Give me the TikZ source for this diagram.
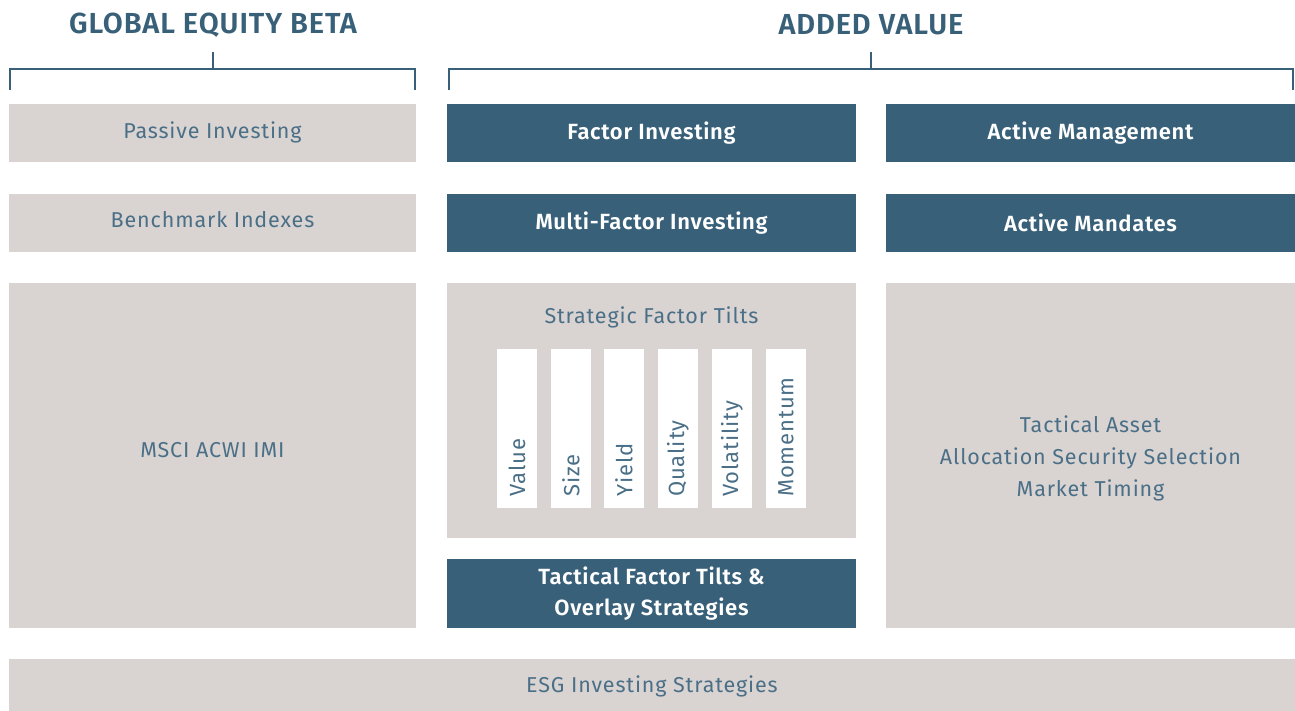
\documentclass[tikz,border=0pt]{standalone}
\usepackage{fontspec}
\setmainfont{Fira Sans}[LetterSpace=4]
\newfontfamily\boldf{Fira Sans SemiBold}[LetterSpace=3]
\definecolor{darkb}{HTML}{386079}
\definecolor{greyb}{HTML}{D9D4D2}
\definecolor{txtb}{HTML}{4A6F87}
\begin{document}
\begin{tikzpicture}[x=1pt,y=-1pt,
  gbox/.style={rectangle,fill=greyb,inner sep=0pt,text=txtb,font=\fontsize{21.5}{32}\selectfont,align=center},
  dbox/.style={rectangle,fill=darkb,inner sep=0pt,text=white,font=\boldf\fontsize{22}{31}\selectfont,align=center},
  wbar/.style={rectangle,fill=white,inner sep=0pt,minimum width=40pt,minimum height=159pt},
  vlab/.style={rotate=90,anchor=west,inner sep=0pt,text=txtb,font=\fontsize{22}{24}\selectfont},
  gtxt/.style={text=txtb,font=\fontsize{21.5}{32}\selectfont,align=center},
  title/.style={text=darkb,font=\boldf\fontsize{29}{30}\selectfont},
  brk/.style={draw=darkb,line width=1.5pt}]
\useasboundingbox (0,0) rectangle (1295,711);
% titles
\node[title] (t1) at (213,25) {GLOBAL EQUITY BETA};
\node[title] (t2) at (871,25) {ADDED VALUE};
% brackets
\coordinate (b1t) at (213,52);
\coordinate (b1m) at (213,69);
\draw[brk] (10,90) -- (10,69) -- (415,69) -- (415,90);
\draw[brk] (b1t) -- (b1m);
\coordinate (b2t) at (871,52);
\coordinate (b2m) at (871,69);
\draw[brk] (449,90) -- (449,69) -- (1293,69) -- (1293,90);
\draw[brk] (b2t) -- (b2m);
% left column
\node[gbox,minimum width=407pt,minimum height=58pt] (pass) at (212.5,133) {};
\node[gtxt] (passl) at (212.5,132) {Passive Investing};
\node[gbox,minimum width=407pt,minimum height=58pt] (bench) at (212.5,223) {};
\node[gtxt] (benchl) at (212.5,220) {Benchmark Indexes};
\node[gbox,minimum width=407pt,minimum height=345pt] (msci) at (212.5,455.5) {};
\node[gtxt] (mscil) at (212.5,450) {MSCI ACWI IMI};
% middle column
\node[dbox,minimum width=409pt,minimum height=58pt] (fact) at (651.5,133) {Factor Investing};
\node[dbox,minimum width=409pt,minimum height=58pt] (multi) at (651.5,223) {Multi-Factor Investing};
\node[gbox,minimum width=409pt,minimum height=255pt] (strat) at (651.5,410.5) {};
\node[gtxt] (stratl) at (651.5,317) {Strategic Factor Tilts};
\node[dbox,minimum width=409pt,minimum height=69pt] (tact) at (651.5,593.5) {Tactical Factor Tilts \&\\Overlay Strategies};
% factor bars
\foreach \n/\x/\t in {f1/517/Value,f2/571/Size,f3/624/Yield,f4/678/Quality,f5/732/Volatility,f6/786/Momentum}{
  \node[wbar] (\n) at (\x,428.5) {};
  \node[vlab] (\n l) at (\x,497) {\t};
}
% right column
\node[dbox,minimum width=409pt,minimum height=58pt] (actm) at (1090.5,133) {Active Management};
\node[dbox,minimum width=409pt,minimum height=58pt] (actd) at (1090.5,223) {Active Mandates};
\node[gbox,minimum width=409pt,minimum height=345pt] (tas) at (1090.5,455.5) {};
\node[gtxt] (tasl) at (1090.5,458) {Tactical Asset\\Allocation Security Selection\\Market Timing};
% ESG
\node[gbox,minimum width=1286pt,minimum height=52pt] (esg) at (652,685) {};
\node[gtxt] (esgl) at (652,686) {ESG Investing Strategies};
\end{tikzpicture}
\end{document}
